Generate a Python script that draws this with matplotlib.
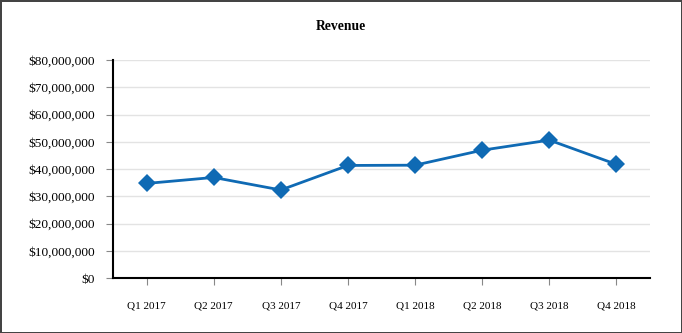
import matplotlib.pyplot as plt
from matplotlib.ticker import FuncFormatter

# quarterly revenue
quarters = ['Q1 2017', 'Q2 2017', 'Q3 2017', 'Q4 2017',
            'Q1 2018', 'Q2 2018', 'Q3 2018', 'Q4 2018']
revenue = [34.7e6, 36.9e6, 32.3e6, 41.3e6, 41.4e6, 46.9e6, 50.6e6, 41.7e6]

plt.rcParams['font.family'] = ['Liberation Serif', 'DejaVu Serif']

fig = plt.figure(figsize=(6.82, 3.33), dpi=100)
fig.patch.set_edgecolor('#444444')
fig.patch.set_linewidth(2)
ax = fig.add_axes([113 / 682, 55 / 333, (650 - 113) / 682, (278 - 60) / 333])

x = range(len(quarters))
ax.plot(x, revenue, color='#0f6ab4', linewidth=2, marker='D', markersize=9.5,
        markeredgewidth=0, zorder=3)

ax.set_ylim(0, 80e6)
ax.set_xlim(-0.5, len(quarters) - 0.5)
ax.set_yticks(range(0, 80000001, 10000000))
ax.yaxis.set_major_formatter(FuncFormatter(lambda v, p: '${:,.0f}'.format(v)))
ax.set_xticks(list(x))
ax.set_xticklabels(quarters, fontsize=8)
ax.tick_params(axis='y', labelsize=9.6, length=5, color='#888888', pad=8)
ax.tick_params(axis='x', length=5, color='#888888', pad=12)

ax.grid(axis='y', color='#e3e3e3', linewidth=1)
ax.set_axisbelow(True)
for s in ['top', 'right']:
    ax.spines[s].set_visible(False)
for s in ['left', 'bottom']:
    ax.spines[s].set_color('black')
    ax.spines[s].set_linewidth(1.5)

fig.text(0.5, 1 - 26 / 333, 'Revenue', ha='center', va='center',
         fontsize=9.8, fontweight='bold')

fig.savefig('out.png', dpi=100)
